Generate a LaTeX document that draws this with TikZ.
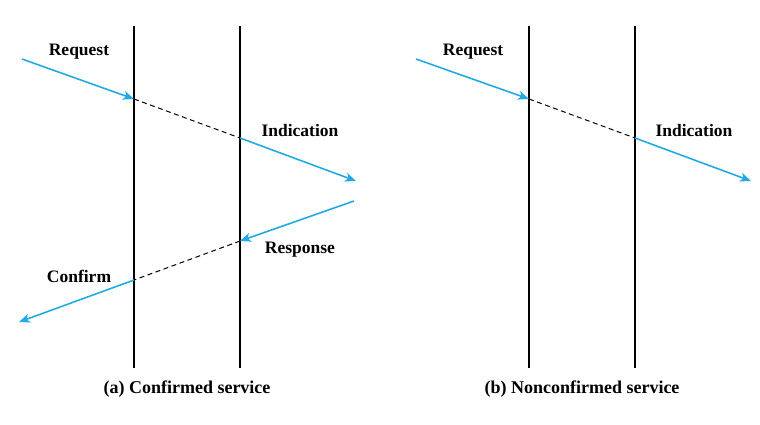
\documentclass[tikz,border=0pt]{standalone}
\usepackage{fontspec}
\setmainfont{Liberation Serif}
\usetikzlibrary{arrows.meta}
\definecolor{msgblue}{RGB}{35,170,228}
\begin{document}
\begin{tikzpicture}[x=1pt,y=-1pt,
  life/.style={draw=black,line width=1.4pt},
  msg/.style={draw=msgblue,line width=1.6pt,-{Stealth[length=11pt,width=9pt,inset=3pt]}},
  dash line/.style={draw=black,line width=1pt,dash pattern=on 5pt off 3.5pt},
  lbl/.style={font=\bfseries\fontsize{17.5}{20}\selectfont,inner sep=0pt},
  captxt/.style={font=\bfseries\fontsize{18}{21}\selectfont,inner sep=0pt}]
\useasboundingbox (0,0) rectangle (760,424);
% ---------- (a) ----------
\coordinate (a1t) at (134,26); \coordinate (a1b) at (134,368);
\coordinate (a2t) at (240,26); \coordinate (a2b) at (240,368);
\draw[life] (a1t) -- (a1b);
\draw[life] (a2t) -- (a2b);
\coordinate (aReqS) at (22,59);
\coordinate (aReqE) at (134,99);
\coordinate (aIndS) at (240,138);
\coordinate (aIndE) at (356,181);
\coordinate (aResS) at (354,201);
\coordinate (aResE) at (240,241);
\coordinate (aConS) at (134,280);
\coordinate (aConE) at (19,322);
\draw[msg] (aReqS) -- (aReqE);
\draw[dash line] (aReqE) -- (aIndS);
\draw[msg] (aIndS) -- (aIndE);
\draw[msg] (aResS) -- (aResE);
\draw[dash line] (aResE) -- (aConS);
\draw[msg] (aConS) -- (aConE);
\node[lbl] (aReqL) at (79,52) {Request};
\node[lbl] (aIndL) at (300,131) {Indication};
\node[lbl] (aResL) at (300,250) {Response};
\node[lbl] (aConL) at (79,276) {Confirm};
\node[captxt] (aCap) at (187,389) {(a) Confirmed service};
% ---------- (b) ----------
\coordinate (b1t) at (529,26); \coordinate (b1b) at (529,368);
\coordinate (b2t) at (635,26); \coordinate (b2b) at (635,368);
\draw[life] (b1t) -- (b1b);
\draw[life] (b2t) -- (b2b);
\coordinate (bReqS) at (416,59);
\coordinate (bReqE) at (529,99);
\coordinate (bIndS) at (635,138);
\coordinate (bIndE) at (751,181);
\draw[msg] (bReqS) -- (bReqE);
\draw[dash line] (bReqE) -- (bIndS);
\draw[msg] (bIndS) -- (bIndE);
\node[lbl] (bReqL) at (473,52) {Request};
\node[lbl] (bIndL) at (694,131) {Indication};
\node[captxt] (bCap) at (582,389) {(b) Nonconfirmed service};
\end{tikzpicture}
\end{document}
